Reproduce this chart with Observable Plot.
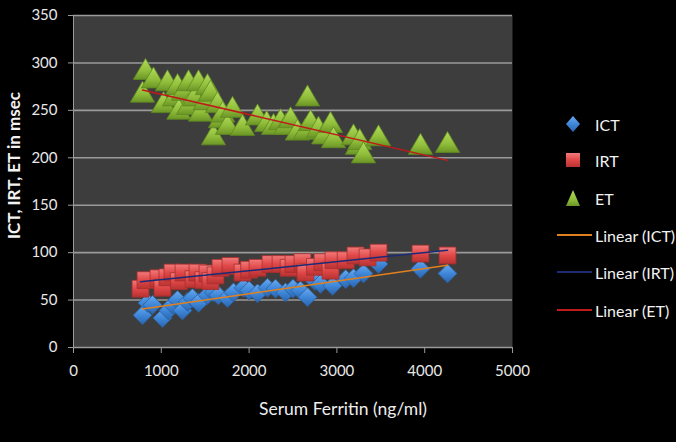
<!DOCTYPE html>
<html>
<head>
<meta charset="utf-8">
<script src="https://cdn.jsdelivr.net/npm/d3@7"></script>
<script src="https://cdn.jsdelivr.net/npm/@observablehq/plot@0.6"></script>
<style>
  html, body { margin: 0; padding: 0; background: #000; }
  #wrap { position: relative; width: 676px; height: 442px; background: #000; font-family: Lato, "Open Sans", sans-serif; }
  #legend { position: absolute; left: 552px; top: 0; color: #f2f2f2; font-size: 16px; }
  .item { position: absolute; left: 0; width: 124px; height: 20px; display: flex; align-items: center; white-space: nowrap; }
  .item svg { flex: none; }
</style>
</head>
<body>
<svg width="0" height="0" style="position:absolute">
  <defs>
    <linearGradient id="gICT" x1="0" y1="0" x2="0" y2="1">
      <stop offset="0" stop-color="#6aaaf0"/><stop offset="0.5" stop-color="#3f87d8"/><stop offset="1" stop-color="#2a65b0"/>
    </linearGradient>
    <linearGradient id="gIRT" x1="0" y1="0" x2="0" y2="1">
      <stop offset="0" stop-color="#f27a7a"/><stop offset="0.5" stop-color="#e04848"/><stop offset="1" stop-color="#b83232"/>
    </linearGradient>
    <linearGradient id="gET" x1="0" y1="0" x2="0" y2="1">
      <stop offset="0" stop-color="#b4dc5c"/><stop offset="0.6" stop-color="#8fbd3a"/><stop offset="1" stop-color="#6c9526"/>
    </linearGradient>
  </defs>
</svg>
<div id="wrap"></div>
<script>
// ---- data ----
const ictFerritin = [786, 843, 900, 1013, 1082, 1130, 1185, 1241, 1300, 1355, 1424, 1526, 1594, 1650, 1754, 1822, 1936, 2000, 2096, 2210, 2301, 2415, 2500, 2585, 2665, 2750, 2813, 2950, 3100, 3189, 3303, 3474, 3952, 4260];
const ictValues   = [34, 47, 45, 31, 39, 45, 50, 39, 48, 52, 47, 55, 58, 55, 52, 58, 63, 60, 57, 63, 62, 58, 62, 60, 53, 70, 67, 65, 72, 73, 78, 88, 83, 78];

const irtFerritin = [763, 820, 968, 1013, 1070, 1127, 1200, 1253, 1367, 1412, 1480, 1526, 1560, 1617, 1674, 1788, 1925, 2000, 2096, 2244, 2358, 2450, 2506, 2608, 2642, 2750, 2836, 2927, 2961, 3100, 3212, 3349, 3474, 3952, 4260];
const irtValues   = [62, 71, 73, 63, 74, 79, 70, 79, 72, 79, 71, 78, 70, 76, 84, 86, 79, 82, 84, 88, 88, 84, 88, 90, 79, 85, 90, 81, 92, 92, 97, 95, 100, 99, 97];

const etFerritin = [786, 820, 911, 1025, 1070, 1150, 1185, 1200, 1253, 1310, 1310, 1380, 1424, 1446, 1500, 1526, 1560, 1594, 1640, 1674, 1700, 1754, 1811, 1925, 2096, 2200, 2278, 2358, 2420, 2472, 2550, 2642, 2665, 2700, 2790, 2850, 2927, 2961, 3189, 3235, 3260, 3303, 3474, 3952, 4260];
const etValues   = [266, 290, 281, 255, 278, 262, 274, 248, 268, 278, 253, 262, 278, 246, 258, 274, 267, 221, 255, 239, 245, 232, 250, 231, 242, 235, 232, 237, 232, 239, 226, 227, 262, 236, 229, 222, 234, 218, 221, 211, 216, 202, 220, 211, 213];

const xTicks = [0, 1000, 2000, 3000, 4000, 5000];
const yTicks = [0, 50, 100, 150, 200, 250, 300, 350];

const seriesNames = ["ICT", "IRT", "ET"];
const markerColors = {ICT: "#3f87d8", IRT: "#e04848", ET: "#8fbd3a"};
const markerFills  = {ICT: "url(#gICT)", IRT: "url(#gIRT)", ET: "url(#gET)"};
const trendColors  = {ICT: "#e0801f", IRT: "#1c2a78", ET: "#c01a1a"};
const markerSymbols = {ICT: "diamond2", IRT: "square", ET: "triangle"};

const rows = (f, v) => f.map((x, i) => ({x, y: v[i]}));
const ict = rows(ictFerritin, ictValues);
const irt = rows(irtFerritin, irtValues);
const et  = rows(etFerritin, etValues);

const chart = Plot.plot({
  width: 676,
  height: 442,
  marginLeft: 73,
  marginRight: 164,
  marginTop: 15,
  marginBottom: 95,
  style: {background: "#000", color: "#e8e8e8", fontFamily: "Lato, 'Open Sans', sans-serif", fontSize: "15px"},
  x: {domain: [0, 5000]},
  y: {domain: [0, 350]},
  marks: [
    Plot.frame({fill: "#3d3d3d", stroke: null}),
    Plot.gridY(yTicks, {stroke: "#9a9a9a", strokeOpacity: 1, strokeWidth: 1.6}),
    Plot.ruleX([0], {stroke: "#9a9a9a", strokeWidth: 1}),
    Plot.axisY({ticks: yTicks, tickSize: 5, tickPadding: 11, tickFormat: d => String(d), label: null, stroke: "#9a9a9a", fontSize: 15}),
    Plot.axisX({ticks: xTicks, tickSize: 6, tickPadding: 12, tickFormat: d => String(d), label: null, stroke: "#9a9a9a", fontSize: 15}),
    Plot.dot(ict, {x: "x", y: "y", symbol: () => markerSymbols.ICT, r: 8.5, fill: markerFills.ICT, stroke: "#2a5f9e", strokeWidth: 0.8}),
    Plot.dot(irt, {x: "x", y: "y", symbol: () => markerSymbols.IRT, r: 9.5, fill: markerFills.IRT, stroke: "#a82e2e", strokeWidth: 0.8}),
    Plot.dot(et,  {x: "x", y: "y", symbol: () => markerSymbols.ET, r: 9, fill: markerFills.ET, stroke: "#5e8a1f", strokeWidth: 0.8}),
    Plot.linearRegressionY(ict, {x: "x", y: "y", stroke: trendColors.ICT, strokeWidth: 1.5, ci: 0}),
    Plot.linearRegressionY(irt, {x: "x", y: "y", stroke: trendColors.IRT, strokeWidth: 1.5, ci: 0}),
    Plot.linearRegressionY(et,  {x: "x", y: "y", stroke: trendColors.ET, strokeWidth: 1.5, ci: 0}),
    Plot.text(["Serum Ferritin (ng/ml)"], {frameAnchor: "bottom", dx: 50, dy: 67, fontSize: 17.5, fill: "#eeeeee"}),
    Plot.text(["ICT, IRT, ET in msec"], {frameAnchor: "left", textAnchor: "middle", dx: -59, dy: -16, rotate: -90, fontSize: 17, fontWeight: "bold", fill: "#f2f2f2"})
  ]
});
document.getElementById("wrap").appendChild(chart);

// legend
const legend = document.createElement("div");
legend.id = "legend";
const symbolPaths = {
  ICT: '<path d="M10 2 L17 10 L10 18 L3 10 Z" fill="' + markerFills.ICT + '"/>',
  IRT: '<rect x="3" y="3" width="14" height="14" fill="' + markerFills.IRT + '"/>',
  ET: '<path d="M10 2 L17 18 L3 18 Z" fill="' + markerFills.ET + '"/>'
};
const items = [
  {label: "ICT", y: 124, kind: "marker", key: "ICT"},
  {label: "IRT", y: 160, kind: "marker", key: "IRT"},
  {label: "ET", y: 198, kind: "marker", key: "ET"},
  {label: "Linear (ICT)", y: 235, kind: "line", key: "ICT"},
  {label: "Linear (IRT)", y: 272, kind: "line", key: "IRT"},
  {label: "Linear (ET)", y: 310, kind: "line", key: "ET"}
];
items.forEach(it => {
  const d = document.createElement("div");
  d.className = "item";
  d.style.top = (it.y - 10) + "px";
  let icon;
  if (it.kind === "marker") {
    icon = '<svg width="40" height="20" viewBox="0 0 40 20"><g transform="translate(11,0)">' + symbolPaths[it.key] + '</g></svg><span style="margin-left:3px">' + it.label + '</span>';
  } else {
    icon = '<svg width="40" height="20"><line x1="5" x2="40" y1="10" y2="10" stroke="' + trendColors[it.key] + '" stroke-width="2"/></svg><span style="margin-left:3px">' + it.label + '</span>';
  }
  d.innerHTML = icon;
  legend.appendChild(d);
});
document.getElementById("wrap").appendChild(legend);
</script>
</body>
</html>
